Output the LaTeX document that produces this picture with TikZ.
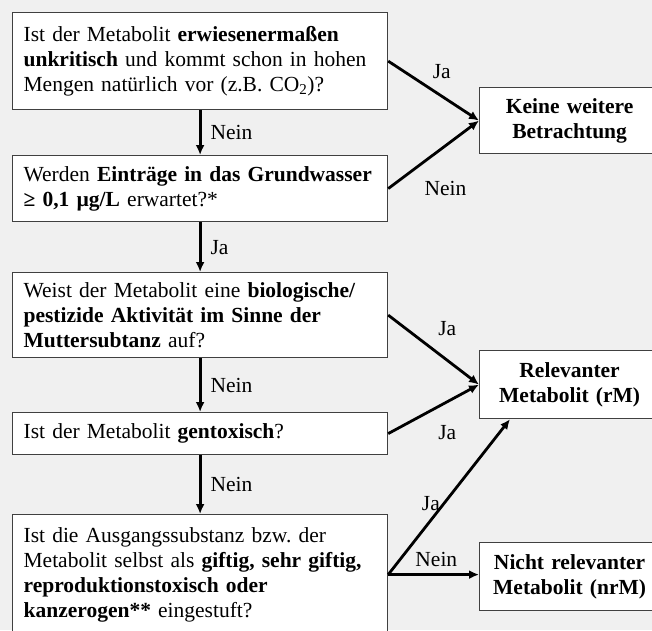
\documentclass[tikz,border=0pt]{standalone}
\usepackage{fontspec}
\setmainfont{Liberation Serif}
\frenchspacing
\usetikzlibrary{arrows.meta,positioning,calc}
\definecolor{bggray}{HTML}{F0F0F0}
\definecolor{rahmen}{HTML}{404040}
\tikzset{
  >={Latex[length=10pt,width=9pt]},
  % Fragen
  qbox/.style={draw=rahmen,fill=white,line width=1.2pt,anchor=north west,
    text width=353pt,inner xsep=11pt,inner ysep=0pt,align=left,
    minimum width=375pt,minimum height=#1,font=\fontsize{21.5}{25}\selectfont},
  % Ergebnisse
  ebox/.style={draw=rahmen,fill=white,line width=1.2pt,anchor=north west,
    text width=164pt,inner xsep=8pt,inner ysep=0pt,align=center,
    minimum height=#1,font=\fontsize{21.5}{25}\selectfont\bfseries},
  pfeil/.style={->,line width=2.8pt},
  lbl/.style={font=\fontsize{21.5}{25}\selectfont,inner sep=1pt},
}
\begin{document}
\begin{tikzpicture}[x=1pt,y=-1pt]
\clip (0,0) rectangle (652,630);
\fill[bggray] (0,0) rectangle (652,630);
  \node[qbox=97pt] (q1) at (12,12) {Ist der Metabolit \textbf{erwiesenermaßen}\\
    \textbf{unkritisch} und kommt schon in hohen\\
    Mengen natürlich vor (z.B. CO\textsubscript{2})?};
  \node[qbox=66pt] (q2) at (12,155) {Werden \textbf{Einträge in das Grundwasser}\\
    \textbf{≥ 0,1 µg/L} erwartet?*};
  \node[qbox=85pt] (q3) at (12,272) {Weist der Metabolit eine \textbf{biologische/}\\
    \textbf{pestizide Aktivität im Sinne der}\\
    \textbf{Muttersubtanz} auf?};
  \node[qbox=42pt] (q4) at (12,412) {Ist der Metabolit \textbf{gentoxisch}?};
  \node[qbox=120pt] (q5) at (12,514) {Ist die Ausgangssubstanz bzw. der\\
    Metabolit selbst als \textbf{giftig, sehr giftig,}\\
    \textbf{reproduktionstoxisch oder}\\
    \textbf{kanzerogen**} eingestuft?};
  \node[ebox=66pt] (kwb) at (479,87) {Keine weitere\\ Betrachtung};
  \node[ebox=68pt] (rm) at (479,350) {Relevanter\\ Metabolit (rM)};
  \node[ebox=68pt] (nrm) at (479,542) {Nicht relevanter\\ Metabolit (nrM)};
  \draw[pfeil] (q1) -- node[lbl,right=8pt] {Nein} (q2);
  \draw[pfeil] (q2) -- node[lbl,right=8pt] {Ja} (q3);
  \draw[pfeil] (q3) -- node[lbl,right=8pt] {Nein} (q4);
  \draw[pfeil] (q4) -- node[lbl,right=8pt] {Nein} (q5);
  \draw[pfeil] (q1.east) -- node[lbl,pos=.59,above=15pt] {Ja} (kwb.west);
  \draw[pfeil] (q2.east) -- node[lbl,pos=.63,below=33pt] {Nein} (kwb.west);
  \draw[pfeil] (q3.east) -- node[lbl,pos=.65,above=22pt] {Ja} (rm.west);
  \draw[pfeil] (q4.east) -- node[lbl,pos=.65,below=21pt] {Ja} (rm.west);
  \draw[pfeil] (q5.east) -- node[lbl,pos=.46,left=2pt] {Ja} ([xshift=31pt]rm.south west);
  \draw[pfeil] (q5.east) -- node[lbl,pos=.53,above=6pt] {Nein} (q5.east -| nrm.west);
\end{tikzpicture}
\end{document}
